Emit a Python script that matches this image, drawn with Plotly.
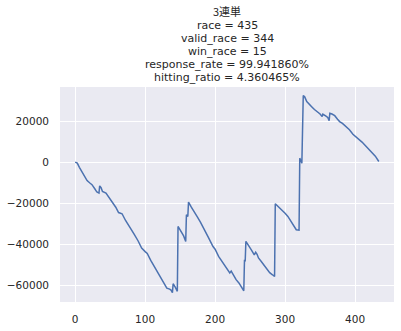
import plotly.graph_objects as go

# Vertices of the cumulative-return line (race index, cumulative value)
race_idx = [0, 3, 6, 10, 14, 17, 21, 24, 28, 31, 34, 35, 37, 39, 44, 48, 53, 58, 62, 67,
            72, 78, 84, 90, 95, 100, 103, 108, 114, 120, 126, 131, 135, 137, 139, 140, 143, 145, 146, 147,
            151, 155, 158, 159, 161, 162, 166, 170, 175, 179, 185, 190, 197, 200, 205, 210, 215, 221, 223, 226,
            230, 234, 238, 241, 242, 243, 244, 248, 252, 256, 258, 260, 262, 266, 270, 274, 278, 282, 285, 286,
            290, 295, 300, 304, 308, 312, 316, 320, 321, 323, 324, 326, 328, 331, 334, 338, 342, 347, 350, 353,
            354, 358, 361, 363, 364, 367, 371, 375, 378, 382, 387, 392, 397, 401, 406, 410, 416, 420, 425, 429, 434]
cum_return = [0, -500, -2500, -5000, -7500, -9000, -10200, -11000, -13000, -14600, -15100, -11600, -12500, -14300, -15100, -17000, -19500, -22000, -24600, -25200,
              -28500, -31500, -35000, -38500, -42000, -43700, -44600, -48000, -51500, -54800, -58000, -61500, -62000, -62500, -63700, -59400, -61000, -62800, -63100, -31400,
              -33500, -36000, -38700, -25700, -26500, -19500, -22000, -24000, -27000, -29300, -33000, -36500, -41200, -42500, -46000, -48500, -51000, -54100, -53200, -55000,
              -57400, -59000, -61000, -62800, -47700, -48500, -38700, -40600, -43000, -45300, -44000, -45000, -46800, -48500, -50500, -52500, -54000, -55000, -55800, -20300,
              -21600, -23000, -25000, -26500, -28500, -31000, -33000, -33200, 1950, 300, -500, 32500, 31900, 29600, 28300, 27100, 25700, 24400, 23500, 22300,
              23400, 22600, 21800, 20300, 23900, 23500, 22700, 21000, 19800, 18900, 17400, 15800, 13650, 12600, 10900, 9800, 7600, 6300, 4400, 2900, 300]

title_lines = ["3連単", "race = 435", "valid_race = 344", "win_race = 15",
               "response_rate = 99.941860%", "hitting_ratio = 4.360465%"]
x_ticks = [0, 100, 200, 300, 400]
y_ticks = [-60000, -40000, -20000, 0, 20000]

LATIN = "DejaVu Sans, Noto Sans CJK JP, sans-serif"
CJK = "Noto Sans CJK JP, sans-serif"
W, H = 401, 331
TOP, BOT = 87, 29

fig = go.Figure()
fig.add_trace(go.Scatter(x=race_idx, y=cum_return, mode="lines",
                         line=dict(color="#4C72B0", width=1.5), showlegend=False))

line_centers = [11.0, 25.5, 38.5, 51.5, 64.5, 77.5]
for i, (txt, yc) in enumerate(zip(title_lines, line_centers)):
    fig.add_annotation(text=txt, xref="paper", yref="paper", x=0.5,
                       y=1 + (TOP - yc) / (H - TOP - BOT), xanchor="center", yanchor="middle",
                       showarrow=False, borderpad=0,
                       font=dict(family=CJK if i == 0 else LATIN, size=11, color="#262626"))

fig.update_layout(
    width=W, height=H,
    margin=dict(l=60, r=7, t=TOP, b=BOT, pad=0),
    paper_bgcolor="white", plot_bgcolor="#EAEAF2",
    font=dict(family=LATIN, size=10.5, color="#262626"),
    xaxis=dict(range=[-21.7, 455.7], tickvals=x_ticks, tickformat="d",
               showgrid=True, gridcolor="white", gridwidth=1, zeroline=False,
               showline=False, ticks="", ticklabelstandoff=9),
    yaxis=dict(range=[-68300, 36700], tickvals=y_ticks, tickformat="d",
               showgrid=True, gridcolor="white", gridwidth=1, zeroline=False,
               showline=False, ticks="", ticklabelstandoff=10),
)
fig.write_html("out.html")
